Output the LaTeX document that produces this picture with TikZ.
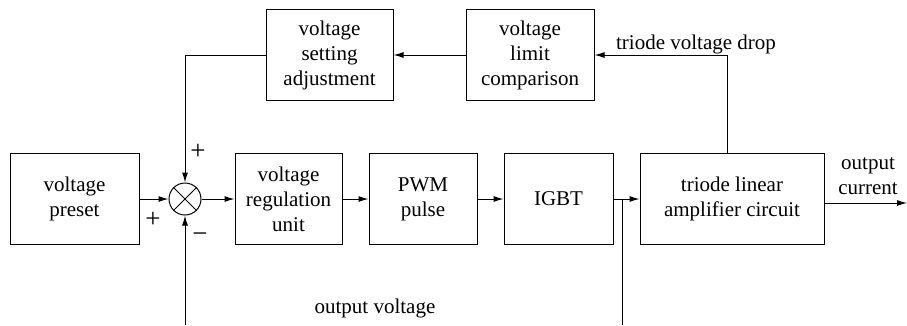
\documentclass[tikz,border=0pt]{standalone}
\usepackage{fontspec}
\setmainfont{Liberation Serif}
\usetikzlibrary{arrows.meta}
\begin{document}
\begin{tikzpicture}[x=1pt, y=-1pt, >={Latex[length=10pt,width=6pt]}, line width=1pt,
  every node/.style={font=\fontsize{21}{25}\selectfont},
  block/.style={draw, minimum height=91pt, align=center, inner sep=0pt},
  sumnode/.style={draw, circle, minimum size=32pt, inner sep=0pt},
  sign/.style={font=\fontsize{27}{27}\selectfont}]
  \useasboundingbox (0,0) rectangle (907,325);
  \node[block, minimum width=129pt] (preset) at (74.5,199) {voltage\\preset};
  \node[sumnode] (sum) at (185,199) {};
  \draw (sum.north west) -- (sum.south east) (sum.north east) -- (sum.south west);
  \node[block, minimum width=107pt] (reg) at (288.5,199) {voltage\\regulation\\unit};
  \node[block, minimum width=108pt] (pwm) at (423,199) {PWM\\pulse};
  \node[block, minimum width=109pt] (igbt) at (558.5,199) {IGBT};
  \node[block, minimum width=184pt] (triode) at (732,199) {triode linear\\amplifier circuit};
  \node[block, minimum width=127pt] (setting) at (329.5,55) {voltage\\setting\\adjustment};
  \node[block, minimum width=128pt] (limit) at (530,55) {voltage\\limit\\comparison};
  \coordinate (tap) at (622,199);
  \coordinate (tapend) at (622,325);
  \coordinate (fbin) at (185,325);
  \coordinate (out) at (907,203);
  \coordinate (droptap) at (727,153);
  % forward path
  \draw[->] (preset) -- (sum);
  \draw[->] (sum) -- (reg);
  \draw[->] (reg) -- (pwm);
  \draw[->] (pwm) -- (igbt);
  \draw[->] (igbt) -- (triode);
  \draw[->] (triode.east |- out) -- (out);
  % feedback
  \draw (tapend) -- (tap);
  \draw[->] (fbin) -- (sum);
  \draw[->] (droptap) |- (limit.east);
  \draw[->] (limit) -- (setting);
  \draw[->] (setting.west) -| (sum.north);
  % labels
  \node[sign] (plustop) at (198,152) {+};
  \node[sign] (plusleft) at (153,220) {+};
  \node[sign] (minus) at (200,238) {−};
  \node[align=center] (outcur) at (868,176) {output\\current};
  \node (outvolt) at (375,308) {output voltage};
  \node (drop) at (696,44) {triode voltage drop};
\end{tikzpicture}
\end{document}
